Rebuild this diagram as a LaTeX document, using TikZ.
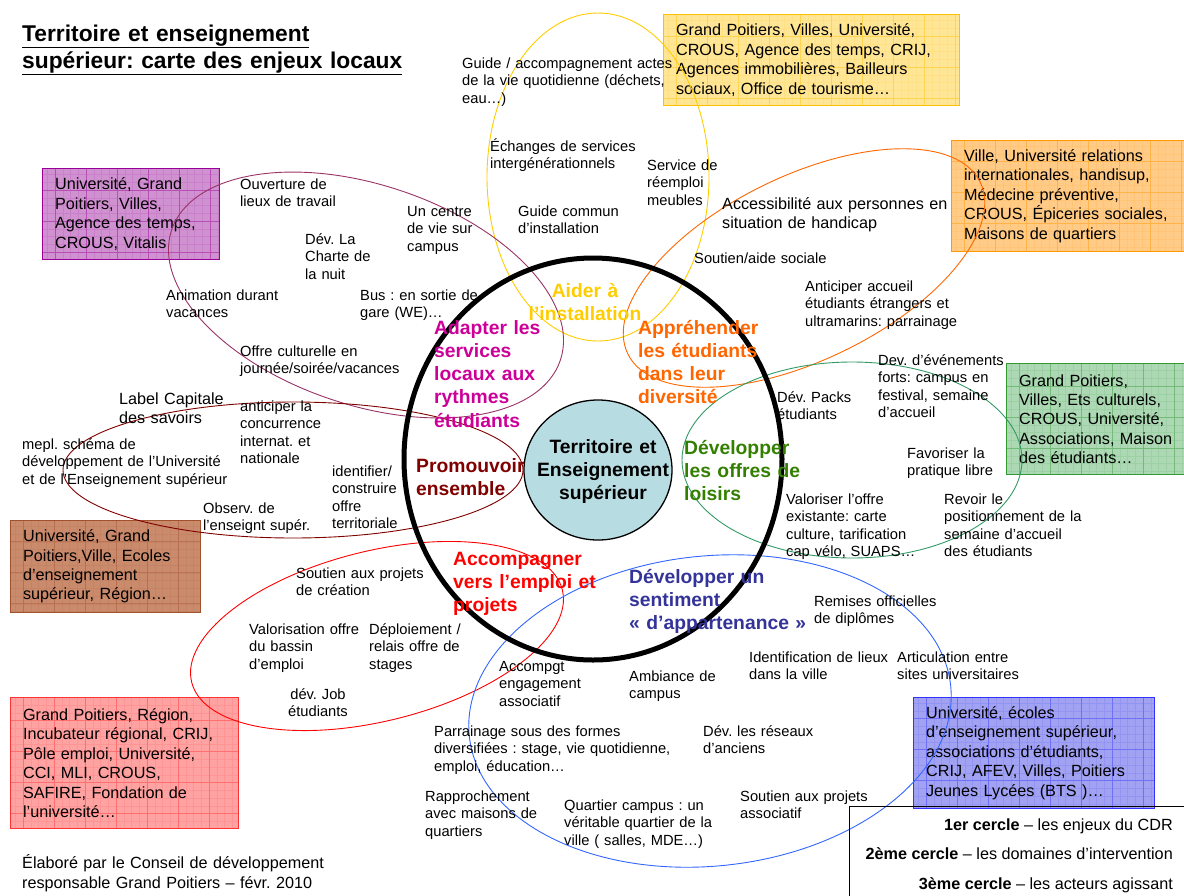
\documentclass[tikz,border=0pt]{standalone}
\usepackage{fontspec}
\setmainfont{Liberation Sans}
\usepackage{tikz}
\usepackage{xcolor}
\frenchspacing

% colours of the domains
\definecolor{installCol}{RGB}{255,204,0}
\definecolor{rythmeCol}{RGB}{204,0,153}
\definecolor{rythmeLine}{RGB}{153,51,102}
\definecolor{diversCol}{RGB}{255,102,0}
\definecolor{promoCol}{RGB}{128,0,0}
\definecolor{loisirCol}{RGB}{51,128,0}
\definecolor{loisirLine}{RGB}{51,153,102}
\definecolor{emploiCol}{RGB}{255,0,0}
\definecolor{appartCol}{RGB}{51,51,153}
\definecolor{appartLine}{RGB}{51,102,255}
\definecolor{centreFill}{RGB}{183,221,227}
% colours of the actor boxes
\definecolor{violetLine}{RGB}{153,0,153}
\definecolor{violetFill}{RGB}{208,145,208}
\definecolor{jauneLine}{RGB}{255,192,0}
\definecolor{jauneFill}{RGB}{255,230,150}
\definecolor{orangeLine}{RGB}{255,153,0}
\definecolor{orangeFill}{RGB}{255,203,135}
\definecolor{vertLine}{RGB}{51,153,51}
\definecolor{vertFill}{RGB}{172,216,180}
\definecolor{brunLine}{RGB}{160,82,45}
\definecolor{brunFill}{RGB}{202,138,108}
\definecolor{rougeLine}{RGB}{255,51,51}
\definecolor{rougeFill}{RGB}{255,162,162}
\definecolor{bleuLine}{RGB}{51,51,255}
\definecolor{bleuFill}{RGB}{162,162,242}

\newcommand{\itemfont}{\fontsize{14.7}{17.6}\selectfont}
\newcommand{\midfont}{\fontsize{16.2}{19.4}\selectfont}
\newcommand{\champfont}{\fontsize{19.3}{23.3}\selectfont\bfseries}
\newcommand{\titlefont}{\fontsize{22.8}{27}\selectfont\bfseries}

\begin{document}
\begin{tikzpicture}[x=1pt, y=-1pt,
    initiative/.style={font=\itemfont, text width=330pt, align=left, anchor=base west, inner sep=0pt},
    initbig/.style={initiative, font=\midfont},
    champ/.style={font=\champfont, text=#1, text width=220pt, align=left, anchor=base west, inner sep=0pt},
    acteurs/.style 2 args={draw=#1, fill=#2, line width=1.2pt, anchor=north west,
        inner xsep=12.5pt, inner ysep=0pt, align=left, font=\midfont,
        path picture={
            \draw[#1, opacity=.12, line width=.3pt] (path picture bounding box.south west) grid[step=7.75pt] (path picture bounding box.north east);
            \draw[#1, opacity=.38, line width=.6pt] (path picture bounding box.south west) grid[step=31pt] (path picture bounding box.north east);}},
    zone/.style={line width=.9pt}
]
    \useasboundingbox (0,0) rectangle (1184,895);

    % Title
    \node[font=\titlefont, text width=420pt, align=left, anchor=base west, inner sep=0pt] (titre) at (22,41)
        {\underline{Territoire et enseignement}\\\underline{supérieur: carte des enjeux locaux}};

    % Actors (3rd circle)
    \node[acteurs={violetLine}{violetFill}, minimum width=177, minimum height=91, text width=152] (actRythme) at (42,168)
        {Université, Grand\\Poitiers, Villes,\\Agence des temps,\\CROUS, Vitalis};
    \node[acteurs={jauneLine}{jauneFill}, minimum width=296, minimum height=91, text width=271] (actInstall) at (663,14)
        {Grand Poitiers, Villes, Université,\\CROUS, Agence des temps, CRIJ,\\Agences immobilières, Bailleurs\\sociaux, Office de tourisme…};
    \node[acteurs={orangeLine}{orangeFill}, minimum width=260, minimum height=111, text width=235] (actDivers) at (951,140)
        {Ville, Université relations\\internationales, handisup,\\Médecine préventive,\\CROUS, Épiceries sociales,\\Maisons de quartiers};
    \node[acteurs={vertLine}{vertFill}, minimum width=200, minimum height=111, text width=175] (actLoisir) at (1006,363)
        {Grand Poitiers,\\Villes, Ets culturels,\\CROUS, Université,\\Associations, Maison\\des étudiants…};
    \node[acteurs={brunLine}{brunFill}, minimum width=190, minimum height=92, text width=165] (actPromo) at (10,520)
        {Université, Grand\\Poitiers,Ville, Ecoles\\d’enseignement\\supérieur, Région…};
    \node[acteurs={rougeLine}{rougeFill}, minimum width=228, minimum height=131, text width=203] (actEmploi) at (10,697)
        {Grand Poitiers, Région,\\Incubateur régional, CRIJ,\\Pôle emploi, Université,\\CCI, MLI, CROUS,\\SAFIRE, Fondation de\\l’université…};
    \node[acteurs={bleuLine}{bleuFill}, minimum width=241, minimum height=111, text width=216] (actAppart) at (913,697)
        {Université, écoles\\d’enseignement supérieur,\\associations d’étudiants,\\CRIJ, AFEV, Villes, Poitiers\\Jeunes Lycées (BTS )…};

    % Domain ellipses (2nd circle)
    \draw[zone, installCol] (598,177) ellipse [x radius=111, y radius=164];
    \draw[zone, rythmeLine, rotate around={-18.5:(366,295)}] (366,295) ellipse [x radius=205, y radius=110];
    \draw[zone, diversCol, rotate around={26:(804,268)}] (804,268) ellipse [x radius=196, y radius=92];
    \draw[zone, promoCol] (293,470) ellipse [x radius=230, y radius=68];
    \draw[zone, loisirLine] (852,460) ellipse [x radius=170, y radius=98];
    \draw[zone, emploiCol, rotate around={14:(377,636)}] (377,636) ellipse [x radius=191, y radius=85];
    \draw[zone, appartLine, rotate around={6:(710,711)}] (710,711) ellipse [x radius=242, y radius=155];

    % 1st circle and centre
    \draw[line width=5pt] (593,459) ellipse [x radius=189, y radius=201];
    \draw[fill=centreFill, line width=1.3pt] (598,470) ellipse [x radius=74, y radius=70];
    \node[font=\champfont, text width=200pt, align=center, anchor=base, inner sep=0pt] (centre) at (603,453)
        {Territoire et\\Enseignement\\supérieur};

    % Domains
    \node[champ=installCol, align=center, anchor=base] (aider) at (585,297) {Aider à\\l’installation};
    \node[champ=rythmeCol] (adapter) at (434,334) {Adapter les\\services\\locaux aux\\rythmes\\étudiants};
    \node[champ=diversCol] (apprehender) at (638,334) {Appréhender\\les étudiants\\dans leur\\diversité};
    \node[champ=promoCol] (promouvoir) at (416,472) {Promouvoir\\ensemble};
    \node[champ=loisirCol] (loisirs) at (684,454) {Développer\\les offres de\\loisirs};
    \node[champ=emploiCol] (emploi) at (453,565) {Accompagner\\vers l’emploi et\\projets};
    \node[champ=appartCol] (appartenance) at (629,583) {Développer un\\sentiment\\« d’appartenance »};

    % Installation
    \node[initiative] (guideVie) at (462,68) {Guide / accompagnement actes\\de la vie quotidienne (déchets,\\eau…)};
    \node[initiative] (echanges) at (490,151) {Échanges de services\\intergénérationnels};
    \node[initiative] (reemploi) at (647,170) {Service de\\réemploi\\meubles};
    \node[initiative] (guideCommun) at (518,216) {Guide commun\\d’installation};

    % Rythmes
    \node[initiative] (ouverture) at (240,189) {Ouverture de\\lieux de travail};
    \node[initiative] (centreVie) at (407,216) {Un centre\\de vie sur\\campus};
    \node[initiative] (charte) at (305,244) {Dév. La\\Charte de\\la nuit};
    \node[initiative] (animation) at (166,300) {Animation durant\\vacances};
    \node[initiative] (bus) at (360,300) {Bus : en sortie de\\gare (WE)…};
    \node[initiative] (offreCult) at (240,356) {Offre culturelle en\\journée/soirée/vacances};

    % Promouvoir
    \node[initbig] (label) at (119,404) {Label Capitale\\des savoirs};
    \node[initiative] (concurrence) at (240,411) {anticiper la\\concurrence\\internat. et\\nationale};
    \node[initiative] (schema) at (22,449) {mepl. schéma de\\développement de l’Université\\et de l’Enseignement supérieur};
    \node[initiative] (identifier) at (332,476) {identifier/\\construire\\offre\\territoriale};
    \node[initiative] (observ) at (203,513) {Observ. de\\l’enseignt supér.};

    % Emploi
    \node[initiative] (creation) at (296,578) {Soutien aux projets\\de création};
    \node[initiative] (bassin) at (249,634) {Valorisation offre\\du bassin\\d’emploi};
    \node[initiative] (stages) at (369,634) {Déploiement /\\relais offre de\\stages};
    \node[initiative, text width=120pt, align=center, anchor=base] (job) at (318,699) {dév. Job\\étudiants};

    % Appartenance
    \node[initiative] (engagement) at (499,671) {Accompgt\\engagement\\associatif};
    \node[initiative] (ambiance) at (629,681) {Ambiance de\\campus};
    \node[initiative] (lieux) at (749,662) {Identification de lieux\\dans la ville};
    \node[initiative] (articulation) at (897,662) {Articulation entre\\sites universitaires};
    \node[initiative] (remises) at (814,606) {Remises officielles\\de diplômes};
    \node[initiative] (parrainage) at (434,736) {Parrainage sous des formes\\diversifiées : stage, vie quotidienne,\\emploi, éducation…};
    \node[initiative] (reseaux) at (703,736) {Dév. les réseaux\\d’anciens};
    \node[initiative] (rapprochement) at (425,801) {Rapprochement\\avec maisons de\\quartiers};
    \node[initiative] (quartier) at (564,810) {Quartier campus : un\\véritable quartier de la\\ville ( salles, MDE…)};
    \node[initiative] (soutienAsso) at (740,801) {Soutien aux projets\\associatif};

    % Diversite
    \node[initbig] (accessibilite) at (722,209.5) {Accessibilité aux personnes en\\situation de handicap};
    \node[initiative] (aideSociale) at (694,263) {Soutien/aide sociale};
    \node[initiative] (accueil) at (805,291) {Anticiper accueil\\étudiants étrangers et\\ultramarins: parrainage};

    % Loisirs
    \node[initiative] (evenements) at (878,365) {Dev. d’événements\\forts: campus en\\festival, semaine\\d’accueil};
    \node[initiative] (packs) at (777,402) {Dév. Packs\\étudiants};
    \node[initiative] (pratique) at (907,458) {Favoriser la\\pratique libre};
    \node[initiative] (valoriser) at (786,504) {Valoriser l’offre\\existante: carte\\culture, tarification\\cap vélo, SUAPS…};
    \node[initiative] (semaine) at (944,504) {Revoir le\\positionnement de la\\semaine d’accueil\\des étudiants};

    % Legend
    \node[draw, line width=.8pt, anchor=north west, minimum width=400, minimum height=120] (legende) at (849,806) {};
    \node[font=\midfont, anchor=base east, inner sep=0pt] (leg1) at (1173,830) {\textbf{1er cercle} – les enjeux du CDR};
    \node[font=\midfont, anchor=base east, inner sep=0pt] (leg2) at (1173,859) {\textbf{2ème cercle} – les domaines d’intervention};
    \node[font=\midfont, anchor=base east, inner sep=0pt] (leg3) at (1173,889) {\textbf{3ème cercle} – les acteurs agissant};

    % Footer
    \node[font=\fontsize{16.2}{20}\selectfont, text width=400pt, align=left, anchor=base west, inner sep=0pt] (auteur) at (22,868.5)
        {Élaboré par le Conseil de développement\\responsable Grand Poitiers – févr. 2010};
\end{tikzpicture}
\end{document}
